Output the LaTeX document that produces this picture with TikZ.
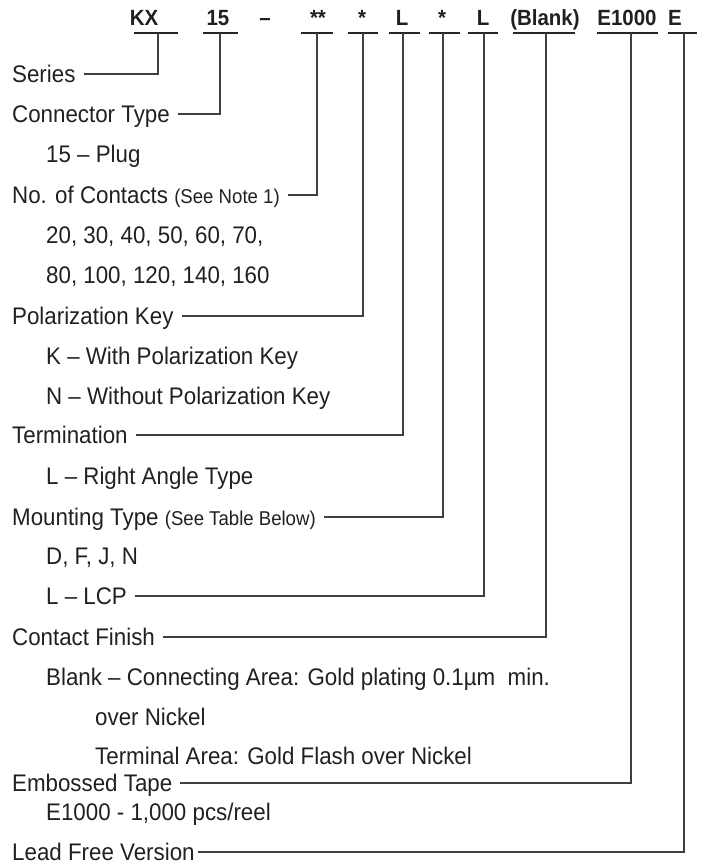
\documentclass[tikz,border=0pt]{standalone}
\usepackage{fontspec}
\setmainfont{Liberation Sans}[FakeStretch=0.93]
\usepackage{tikz}

\definecolor{ink}{HTML}{231F20}
\newcommand\smallnote[1]{{\fontsize{20}{23}\selectfont #1}}

\begin{document}
\begin{tikzpicture}[x=1pt,y=-1pt,
    lbl/.style={anchor=west,inner sep=0pt,text height=16pt,text depth=0pt,
                font=\fontsize{24}{28}\selectfont,text=ink},
    code/.style={anchor=base,inner sep=0pt,font=\fontsize{22}{26}\selectfont\bfseries,text=ink},
    bar/.style={line width=2.6pt,black!85},
    lead/.style={line width=1.1pt,black!75}]
\useasboundingbox (0,0) rectangle (704,865);

% part number
\node[code] (cKX) at (144,25) {KX};
\node[code] (c15) at (218,25) {15};
\node[code] (cdash) at (265,25) {–};
\node[code] (cpins) at (318,25) {**};
\node[code] (ckey) at (362,25) {*};
\node[code] (cterm) at (402,25) {L};
\node[code] (cmount) at (442,25) {*};
\node[code] (clcp) at (483,25) {L};
\node[code] (cfinish) at (545,25) {(Blank)};
\node[code] (ctape) at (627,25) {E1000};
\node[code] (cfree) at (675,25) {E};

% bars under the code
\foreach \a/\b in {134/178,203/238,301/333,348/378,389/420,429/460,468/498,513/575,597/658,668/697}
    \draw[bar] (\a,33) -- (\b,33);
\foreach \n/\x in {KX/158,15/220,pins/317,key/363,term/403,mount/443,lcp/484,finish/546,tape/631,free/684}
    \coordinate (b\n) at (\x,33);

% descriptions
\node[lbl] (series) at (12,74) {Series};
\node[lbl] (conn) at (12,114) {Connector Type};
\node[lbl] (plug) at (46,154) {15 – Plug};
\node[lbl] (contacts) at (12,195) {No. of Contacts \smallnote{(See Note 1)}};
\node[lbl] (cnt1) at (46,235) {20, 30, 40, 50, 60, 70,};
\node[lbl] (cnt2) at (46,275) {80, 100, 120, 140, 160};
\node[lbl] (polar) at (12,316) {Polarization Key};
\node[lbl] (polK) at (46,356) {K – With Polarization Key};
\node[lbl] (polN) at (46,396) {N – Without Polarization Key};
\node[lbl] (term) at (12,435) {Termination};
\node[lbl] (termL) at (46,476) {L – Right Angle Type};
\node[lbl] (mount) at (12,517) {Mounting Type \smallnote{(See Table Below)}};
\node[lbl] (mountD) at (46,556) {D, F, J, N};
\node[lbl] (mountL) at (46,596) {L – LCP};
\node[lbl] (finish) at (12,637) {Contact Finish};
\node[lbl] (blank) at (46,677) {Blank – Connecting Area: Gold plating 0.1µm\ \ min.};
\node[lbl] (nickel) at (95,717) {over Nickel};
\node[lbl] (flash) at (95,756) {Terminal Area: Gold Flash over Nickel};
\node[lbl] (tape) at (12,783) {Embossed Tape};
\node[lbl] (reel) at (46,812) {E1000 - 1,000 pcs/reel};
\node[lbl] (free) at (12,852) {Lead Free Version};

% leaders
\draw[lead] ([xshift=8pt]series.east) -| (bKX);
\draw[lead] ([xshift=8pt]conn.east) -| (b15);
\draw[lead] ([xshift=8pt]contacts.east) -| (bpins);
\draw[lead] ([xshift=8pt]polar.east) -| (bkey);
\draw[lead] ([xshift=8pt]term.east) -| (bterm);
\draw[lead] ([xshift=8pt]mount.east) -| (bmount);
\draw[lead] ([xshift=8pt]mountL.east) -| (blcp);
\draw[lead] ([xshift=8pt]finish.east) -| (bfinish);
\draw[lead] ([xshift=8pt]tape.east) -| (btape);
\draw[lead] ([xshift=3pt]free.east) -| (bfree);
\end{tikzpicture}
\end{document}
